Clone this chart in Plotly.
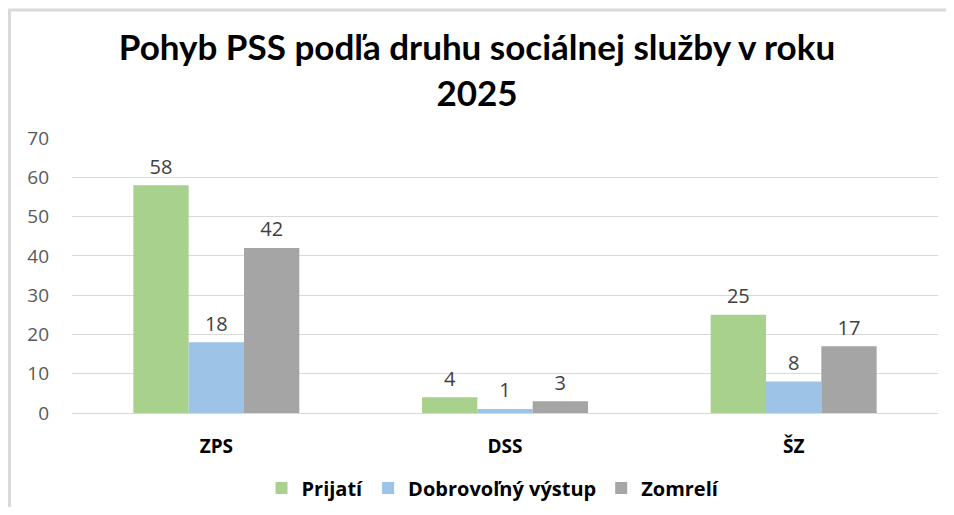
import plotly.graph_objects as go

categories = ["ZPS", "DSS", "ŠZ"]
prijati = [58, 4, 25]
dobrovolny = [18, 1, 8]
zomreli = [42, 3, 17]
series_names = ["Prijatí", "Dobrovoľný výstup", "Zomrelí"]
colors = ["#A9D18E", "#9DC3E6", "#A5A5A5"]
y_ticks = [0, 10, 20, 30, 40, 50, 60, 70]

W, H = 938, 499
L, R, T, B = 64, 8, 130, 94
pw, ph = W - L - R, H - T - B

fig = go.Figure()
for name, vals, col in zip(series_names, [prijati, dobrovolny, zomreli], colors):
    fig.add_trace(go.Bar(
        x=categories, y=vals, name=name, marker_color=col,
        marker_line_width=0, hoverinfo="skip",
    ))
for name, vals in zip(series_names, [prijati, dobrovolny, zomreli]):
    fig.add_trace(go.Scatter(
        x=categories, y=vals, mode="markers+text", showlegend=False,
        marker=dict(size=9, opacity=0), hoverinfo="skip",
        text=[str(v) for v in vals], textposition="top center",
        textfont=dict(family="Open Sans", size=20, color="#404040"),
        cliponaxis=False,
    ))

fig.update_layout(
    width=W, height=H,
    margin=dict(l=L, r=R, t=T, b=B, autoexpand=False),
    paper_bgcolor="white", plot_bgcolor="white",
    barmode="group", bargap=0.425, bargroupgap=0,
    scattermode="group", scattergap=0.425,
    title=dict(
        text="<b>Pohyb PSS podľa druhu sociálnej služby v roku<br>2025</b>",
        x=0.5, xanchor="center", y=1 - 52 / H, yanchor="middle",
        font=dict(family="Lato", size=35, color="#000000"),
    ),
    xaxis=dict(
        showline=True, linecolor="#D9D9D9", linewidth=1,
        ticks="", ticklabelstandoff=16,
        tickfont=dict(family="Open Sans", size=19, color="#000000", weight="bold"),
    ),
    yaxis=dict(
        range=[0, 70], tickvals=y_ticks, showgrid=True, gridcolor="#D9D9D9",
        gridwidth=1, zeroline=False, showline=False, ticks="",
        tickfont=dict(family="Open Sans", size=19, color="#595959"),
        ticklabelstandoff=22,
    ),
    legend=dict(
        orientation="h", x=(485 - L) / pw, xanchor="center",
        y=(405 - 480) / ph, yanchor="middle",
        font=dict(family="Open Sans", size=20, color="#000000", weight="bold"),
        itemwidth=30, traceorder="normal",
    ),
    shapes=[
        dict(type="line", xref="paper", yref="paper", x0=-L / pw, x1=1 + R / pw,
             y0=1 + (T - 2) / ph, y1=1 + (T - 2) / ph,
             line=dict(color="#D9D9D9", width=3)),
        dict(type="line", xref="paper", yref="paper", x0=(-L + 1.5) / pw, x1=(-L + 1.5) / pw,
             y0=-B / ph, y1=1 + (T - 2) / ph,
             line=dict(color="#D9D9D9", width=3)),
    ],
)

fig.write_html("out.html")
